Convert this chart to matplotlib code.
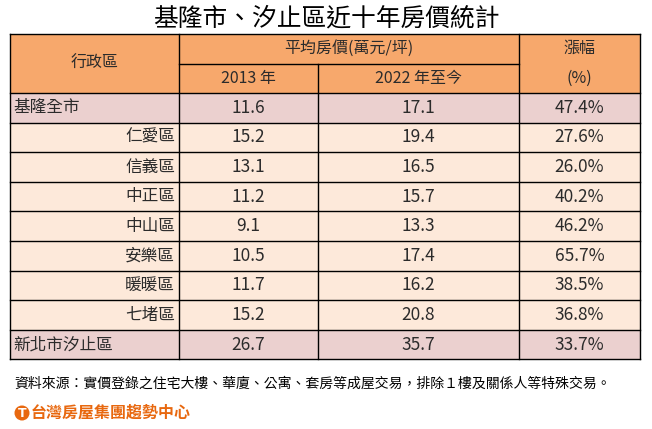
import matplotlib
matplotlib.use('Agg')
from matplotlib import pyplot as plt
from matplotlib.patches import Rectangle, Circle

plt.rcParams['font.family'] = ['Noto Sans CJK TC', 'DejaVu Sans']

# data
districts   = ['基隆全市', '仁愛區', '信義區', '中正區', '中山區', '安樂區', '暖暖區', '七堵區', '新北市汐止區']
price_2013  = [11.6, 15.2, 13.1, 11.2, 9.1, 10.5, 11.7, 15.2, 26.7]
price_2022  = [17.1, 19.4, 16.5, 15.7, 13.3, 17.4, 16.2, 20.8, 35.7]
growth_pct  = [47.4, 27.6, 26.0, 40.2, 46.2, 65.7, 38.5, 36.8, 33.7]
is_summary  = [True, False, False, False, False, False, False, False, True]

title       = '基隆市、汐止區近十年房價統計'
hdr_region  = '行政區'
hdr_price   = '平均房價(萬元/坪)'
hdr_years   = ['2013 年', '2022 年至今']
hdr_growth  = ['漲幅', '(%)']
footnote    = '資料來源：實價登錄之住宅大樓、華廈、公寓、套房等成屋交易，排除１樓及關係人等特殊交易。'
logo_text   = '台灣房屋集團趨勢中心'

# layout (pixel units)
col_edges   = [10, 179, 318, 519, 640]
top         = 34
hdr_h       = 29.5
row_h       = 29.6

HDR_COLOR   = '#F7A86C'
SUM_COLOR   = '#EBD0CF'
ROW_COLOR   = '#FDE9DA'
TXT_COLOR   = '#2b2b2b'

fig = plt.figure(figsize=(6.52, 4.29), dpi=100)
ax = fig.add_axes([0, 0, 1, 1])
ax.set_xlim(0, 652)
ax.set_ylim(429, 0)
ax.axis('off')


def cell(x0, x1, y0, y1, color):
    ax.add_patch(Rectangle((x0, y0), x1 - x0, y1 - y0, facecolor=color,
                           edgecolor='none', zorder=1))


def line(xs, ys):
    ax.plot(xs, ys, color='black', lw=1.0, zorder=3, solid_capstyle='projecting')


def mid(i):
    return (col_edges[i] + col_edges[i + 1]) / 2


def txt(x, y, s, ha='center', fs=12):
    ax.text(x, y, s, ha=ha, va='center', fontsize=fs, color=TXT_COLOR, fontweight='light')


# title
ax.text(326, 18, title, ha='center', va='center', fontsize=17.8, color='black', fontweight='light')

# header
hdr_bot = top + 2 * hdr_h
cell(col_edges[0], col_edges[-1], top, hdr_bot, HDR_COLOR)
fs = 11.5
txt(mid(0), top + hdr_h, hdr_region, fs=fs)
txt((col_edges[1] + col_edges[3]) / 2, top + hdr_h / 2, hdr_price, fs=fs)
for k, lab in enumerate(hdr_years):
    txt(mid(1 + k), top + 1.5 * hdr_h, lab, fs=fs)
txt(mid(3), top + hdr_h / 2, hdr_growth[0], fs=fs)
txt(mid(3), top + 1.5 * hdr_h, hdr_growth[1], fs=fs)

# body rows
for i, name in enumerate(districts):
    y0 = hdr_bot + i * row_h
    y1 = y0 + row_h
    yc = (y0 + y1) / 2
    cell(col_edges[0], col_edges[-1], y0, y1, SUM_COLOR if is_summary[i] else ROW_COLOR)
    if is_summary[i]:
        txt(col_edges[0] + 3, yc, name, ha='left')
    else:
        txt(col_edges[1] - 4, yc, name, ha='right')
    txt(mid(1), yc, f'{price_2013[i]:.1f}', fs=12.5)
    txt(mid(2), yc, f'{price_2022[i]:.1f}', fs=12.5)
    txt(mid(3), yc, f'{growth_pct[i]:.1f}%', fs=12.5)

bottom = hdr_bot + len(districts) * row_h

# grid lines
line([col_edges[0], col_edges[-1]], [top, top])
line([col_edges[1], col_edges[3]], [top + hdr_h, top + hdr_h])
for i in range(len(districts) + 1):
    y = hdr_bot + i * row_h
    line([col_edges[0], col_edges[-1]], [y, y])
line([col_edges[0], col_edges[0]], [top, bottom])
line([col_edges[-1], col_edges[-1]], [top, bottom])
line([col_edges[1], col_edges[1]], [top, bottom])
line([col_edges[3], col_edges[3]], [top, bottom])
line([col_edges[2], col_edges[2]], [top + hdr_h, bottom])

# footnote
ax.text(14, 384, footnote, ha='left', va='center', fontsize=10, color='black')

# logo
ax.add_patch(Circle((22, 413), 7.5, facecolor='#E8680F', edgecolor='none', zorder=4))
ax.text(22, 413.5, 'T', ha='center', va='center', fontsize=9, fontweight='bold',
        color='white', zorder=5, family='DejaVu Sans')
ax.text(31, 413, logo_text, ha='left', va='center', fontsize=11.5, fontweight='bold', color='#E8680F')

fig.savefig('out.png', dpi=100, facecolor='white')
plt.close(fig)
